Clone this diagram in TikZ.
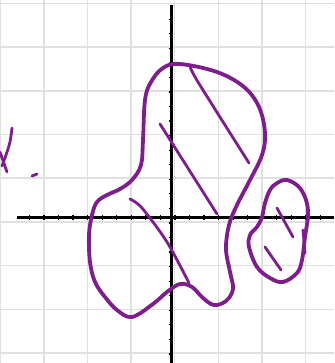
\documentclass[tikz,border=0pt]{standalone}
\definecolor{ink}{RGB}{126,30,140}
\definecolor{gridc}{RGB}{224,224,224}
\begin{document}
\begin{tikzpicture}[x=1pt,y=-1pt,
  outline/.style={draw=ink,line width=3.8pt,line cap=round,line join=round},
  hatch/.style={draw=ink,line width=2.8pt,line cap=round,line join=round},
  gridline/.style={draw=gridc,line width=1.5pt},
  axisline/.style={draw=black,line width=3pt},
  tickline/.style={draw=black,line width=1.2pt}]
\useasboundingbox (0,0) rectangle (334,363);
\clip (0,0) rectangle (334,363);
\fill[white] (0,0) rectangle (334,363);
% grid
\foreach \i in {0,...,7} \draw[gridline] ({0.3+43.6*\i},0) -- ({0.3+43.6*\i},363);
\foreach \j in {0,...,8} \draw[gridline] (0,{3.4+43.7*\j}) -- (334,{3.4+43.7*\j});
% axes
\coordinate (ytop) at (171,5);
\coordinate (ybot) at (171,363);
\coordinate (xl) at (17,217.5);
\coordinate (xr) at (334,217.5);
\draw[axisline] (ytop) -- (ybot);
\draw[axisline] (xl) -- (xr);
\foreach \k in {2,...,22} \draw[tickline] ({0.3+14.55*\k},215.2) -- ({0.3+14.55*\k},219.8);
\foreach \k in {1,...,24} \draw[tickline] (168.7,{4.7+14.55*\k}) -- (173.3,{4.7+14.55*\k});
% big blob
\draw[outline] plot[smooth cycle,tension=0.6] coordinates {
 (180,64) (217,72) (244,87) (259,107) (265,133) (262,155) (250,180) (237,205)
 (229,225) (226,249) (230,272) (233,289) (226,301) (214,305) (203,298) (192,287)
 (180,284) (167,292) (153,304) (132,317) (117,310) (105,297) (95,282) (90,262)
 (89,235) (92,215) (97,202) (107,195) (120,189) (132,180) (141,165) (143,140)
 (145,100) (151,82) (163,68)};
\draw[hatch] plot[smooth] coordinates {(190,66) (198,82) (249,163)};
\draw[hatch] (160,124) -- (217,214);
\draw[hatch] plot[smooth] coordinates {(130,199) (142,208) (167,242) (189,283)};
% small blob
\draw[outline] plot[smooth cycle,tension=0.6] coordinates {
 (287,180) (299,187) (306,200) (308,215) (305,237) (302,260) (297,273) (283,282)
 (270,278) (257,267) (249,247) (250,235) (257,227) (262,217) (265,203) (270,190)
 (277,183)};
\draw[hatch] (303,230) -- (305,253);
\draw[hatch] (277,208) -- (293,237);
\draw[hatch] (265,247) -- (281,270);
% left scribble
\draw[hatch] plot[smooth] coordinates {(12,128) (10,142) (6,155) (2,166)};
\draw[hatch] (0,152) -- (7,172);
\draw[hatch] (32,176) -- (37,174);
\end{tikzpicture}
\end{document}
